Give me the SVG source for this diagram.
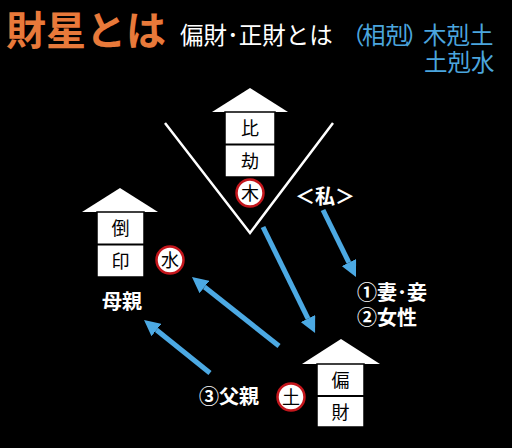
<svg xmlns="http://www.w3.org/2000/svg" width="512" height="448" viewBox="0 0 512 448">
<defs>
<style>
text{font-family:"Noto Sans CJK JP","Noto Sans CJK SC",sans-serif}
.w{fill:#fff}
.b{fill:#4BA5DE}
.box{fill:#fff;stroke:#000;stroke-width:1.5}
.roof{fill:#fff}
.div{stroke:#000;stroke-width:2}
.bt{fill:#000;font-size:18px;text-anchor:middle}
.ci{fill:#fff;stroke:#C4161C;stroke-width:2.5}
.ct{fill:#000;font-size:18px;text-anchor:middle}
.lbl{fill:#fff;font-size:20px;font-weight:bold}
.arr{stroke:#4CA9E3;stroke-width:5;fill:none;marker-end:url(#ah)}
.v{stroke:#fff;stroke-width:2.5;fill:none}
</style>
<marker id="ah" markerUnits="userSpaceOnUse" viewBox="0 0 16 16" markerWidth="16" markerHeight="16" refX="0" refY="8" orient="auto">
<path d="M0,0 L16,8 L0,16 z" fill="#4CA9E3"/>
</marker>
</defs>
<rect width="512" height="448" fill="#000"/>

<g id="title">
<text x="6" y="45" font-size="40" font-weight="bold" fill="#E8793A">財星とは</text>
<text x="180" y="44" font-size="23.5" class="w">偏財･正財とは</text>
<text font-size="23.5" class="b"><tspan x="341 362 385.5 405 423 446.5 470" y="44">（相剋）木剋土</tspan><tspan x="424" y="71">土剋水</tspan></text>
</g>

<g id="v-shape">
<polyline class="v" points="165,123 250,233 333,123"/>
</g>

<g id="node-hikou">
<polygon class="roof" points="212,112 250,88 288,112"/>
<rect class="box" x="225" y="112" width="50" height="65"/>
<line class="div" x1="225" y1="144.5" x2="275" y2="144.5"/>
<text class="bt" x="250" y="135">比</text>
<text class="bt" x="250" y="168">劫</text>
<circle class="ci" cx="250" cy="193" r="13.5"/>
<text class="ct" x="250" y="199.5">木</text>
</g>

<g id="node-touin">
<polygon class="roof" points="82,212 120,188 158,212"/>
<rect class="box" x="97" y="212" width="47" height="65"/>
<line class="div" x1="97" y1="244.5" x2="144" y2="244.5"/>
<text class="bt" x="120.5" y="235">倒</text>
<text class="bt" x="120.5" y="268">印</text>
<circle class="ci" cx="170" cy="260" r="13.5"/>
<text class="ct" x="170" y="266.5">水</text>
</g>

<g id="node-henzai">
<polygon class="roof" points="302,364 341,339 380,364"/>
<rect class="box" x="317" y="364" width="47" height="63"/>
<line class="div" x1="317" y1="396" x2="364" y2="396"/>
<text class="bt" x="340.5" y="387">偏</text>
<text class="bt" x="340.5" y="419">財</text>
<circle class="ci" cx="291" cy="397" r="13.5"/>
<text class="ct" x="291" y="403.5">土</text>
</g>

<g id="labels">
<text class="lbl" x="325" y="204" text-anchor="middle">＜私＞</text>
<text class="lbl" x="122" y="309" text-anchor="middle">母親</text>
<text class="lbl" x="229" y="404" text-anchor="middle">③父親</text>
<text class="lbl"><tspan x="357" y="300">①妻･妾</tspan><tspan x="357" y="325">②女性</tspan></text>
</g>

<g id="connectors">
<line class="arr" x1="263" y1="227" x2="308" y2="318.6"/>
<line class="arr" x1="279" y1="346" x2="204.5" y2="287"/>
<line class="arr" x1="210" y1="373" x2="156.5" y2="330"/>
<line class="arr" x1="323" y1="210" x2="348.9" y2="262.6"/>
</g>
</svg>
